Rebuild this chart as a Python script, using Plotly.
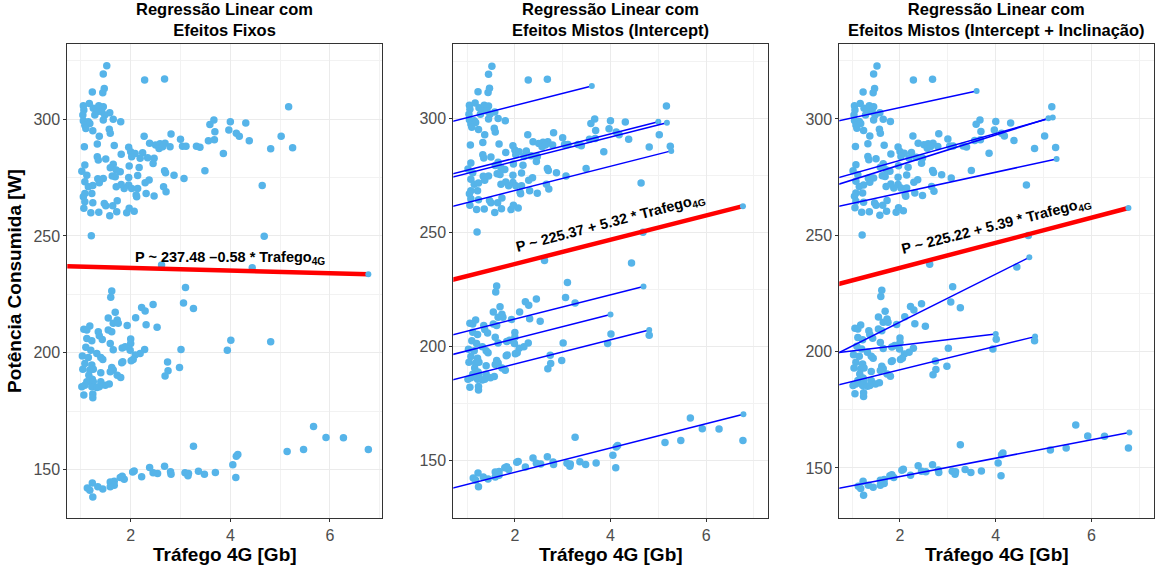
import numpy as np
import plotly.graph_objects as go

# ---------------- data ----------------
# upper cluster (about 250-325 W)
trafego_alto = [1.52,1.45,2.28,2.68,1.44,1.47,1.23,5.17,1.05,1.17,1.06,1.25,1.36,1.45,1.32,1.42,1.58,1.04,1.28,1.48,
                1.65,1.80,1.45,1.05,1.15,1.08,1.18,1.10,1.24,1.57,1.59,1.37,3.67,3.59,4.00,4.31,3.69,3.97,4.12,4.18,
                4.38,5.02,5.25,4.81,2.81,2.27,3.00,3.56,3.68,2.38,2.50,2.59,2.69,2.79,2.57,2.64,3.04,3.11,3.32,3.39,
                3.86,3.49,4.64,4.68,1.07,1.33,1.67,1.96,2.00,2.09,2.24,2.34,2.47,2.19,2.02,1.81,1.33,1.35,1.50,2.45,
                1.97,2.17,1.79,1.65,1.59,1.71,1.63,1.69,1.08,1.02,1.12,1.34,1.37,1.08,1.15,1.24,1.08,1.05,1.22,1.24,
                1.08,1.06,1.20,1.36,1.47,1.50,1.58,1.64,1.73,1.72,1.92,1.97,2.07,1.96,1.96,1.87,2.02,2.14,2.14,2.11,
                2.12,2.31,2.47,2.29,2.37,2.66,2.71,2.70,2.68,2.87,3.07,1.81,1.71,1.45,1.21,2.62,4.44]
potencia_alto = [322.8,319.3,316.7,317.1,311.3,313.1,311.6,305.3,305.7,306.7,303.9,304.6,305.7,305.3,303.1,303.1,302.7,301.7,301.7,301.7,
                 299.9,298.9,299.6,299.3,298.9,297.4,298.1,296.0,295.0,295.6,293.9,292.7,299.6,297.7,298.9,298.3,294.6,295.3,293.9,292.7,
                 290.7,292.7,287.7,287.3,293.6,292.7,291.4,290.7,291.1,289.6,288.9,289.4,289.6,288.2,287.4,288.2,288.4,288.4,288.4,287.9,
                 285.3,277.9,271.6,249.9,288.2,289.3,288.7,287.9,286.0,285.3,285.6,283.5,283.2,283.2,283.9,284.9,283.9,282.5,282.9,281.0,
                 279.9,279.3,277.5,280.7,279.2,278.2,275.6,275.3,280.3,277.7,276.0,274.5,272.8,273.2,271.0,271.6,268.2,266.8,268.2,264.2,
                 264.6,261.8,259.9,260.1,263.9,262.9,258.6,262.9,265.0,260.3,259.9,261.8,260.6,275.0,271.8,270.3,270.3,270.3,275.9,267.5,
                 266.8,268.2,267.1,272.8,273.9,271.0,268.9,277.0,277.9,276.0,274.6,272.0,271.0,274.6,250.1,237.5,236.4]

# middle cluster (about 180-230 W)
trafego_medio = [1.62,1.60,3.10,3.06,3.26,2.45,2.22,2.29,1.69,1.55,1.73,1.65,1.75,2.10,1.93,2.31,2.53,1.18,1.06,1.12,
                 1.55,1.62,1.35,1.37,1.12,1.22,1.43,1.59,2.00,2.00,1.65,1.83,1.89,1.99,2.28,2.19,2.09,2.05,2.01,1.10,
                 1.20,1.32,1.03,1.15,1.44,1.40,1.08,1.22,1.04,1.18,1.25,1.62,1.65,1.59,1.40,1.16,1.23,1.73,1.80,1.82,
                 1.84,1.12,1.25,1.40,1.08,1.02,1.22,1.32,1.49,1.57,1.37,1.06,1.24,1.24,2.74,2.75,2.69,2.98,3.01,3.94,
                 4.01,4.81]
potencia_medio = [226.4,223.7,227.9,221.3,218.9,220.6,219.4,217.9,217.3,214.9,214.0,212.6,212.6,215.0,211.7,212.0,210.9,211.4,210.0,209.7,
                  209.7,209.0,209.0,207.3,206.1,205.1,205.7,203.9,205.9,203.9,201.3,202.0,202.6,201.1,201.4,199.7,199.0,197.1,196.6,202.3,
                  201.1,199.7,198.6,198.0,197.1,198.0,195.4,194.7,192.9,192.6,192.9,193.7,192.6,191.9,191.4,190.4,188.6,190.4,189.4,195.7,
                  196.1,187.6,187.6,187.6,186.1,185.4,185.4,185.1,186.1,186.6,185.4,181.9,182.3,180.7,196.0,192.3,190.0,193.7,201.4,201.1,
                  205.3,204.7]

# lower cluster (about 135-170 W)
trafego_baixo = [3.26,5.67,5.92,6.27,6.77,5.47,5.14,4.15,4.12,4.05,4.11,3.70,3.48,3.36,3.15,3.09,3.16,2.80,2.81,2.68,
                 2.54,2.45,2.38,2.22,2.07,2.04,1.87,1.83,1.79,1.67,1.59,1.67,1.59,1.44,1.34,1.23,1.13,1.18,1.24]
potencia_baixo = [160.0,168.4,163.7,163.6,158.6,158.6,157.7,156.4,155.7,152.1,146.6,148.7,148.0,149.3,147.3,148.6,148.3,149.1,148.0,151.4,
                  148.3,148.6,150.9,146.9,149.4,149.0,145.9,147.1,146.6,145.0,144.7,143.3,142.6,141.7,142.6,144.3,142.1,141.1,138.3]

trafego = trafego_alto + trafego_medio + trafego_baixo
potencia = potencia_alto + potencia_medio + potencia_baixo
trafego_max = 6.77

# fixed-effect models (intercept, slope)
fixo_a, fixo_b = 237.48, -0.58
misto1_a, misto1_b = 225.37, 5.32
misto2_a, misto2_b = 225.22, 5.39

# random intercept model: group intercepts and group x maxima (common slope 5.32)
ri_intercepts = [294.9, 271.8, 270.4, 257.6, 201.2, 192.6, 181.5, 134.0]
ri_xmax = [3.61, 5.00, 5.18, 5.27, 4.69, 4.00, 4.81, 6.78]

# random intercept + slope model: group intercepts, slopes and x maxima
rs_intercepts = [296.0, 270.6, 267.3, 259.2, 192.1, 197.9, 182.1, 138.4]
rs_slopes = [4.46, 5.79, 6.47, 4.48, 10.3, 2.42, 5.05, 3.95]
rs_xmax = [3.60, 5.19, 5.10, 5.27, 4.70, 4.00, 4.82, 6.79]

titulos = ["Regressão Linear com<br>Efeitos Fixos",
           "Regressão Linear com<br>Efeitos Mistos (Intercept)",
           "Regressão Linear com<br>Efeitos Mistos (Intercept + Inclinação)"]

# ---------------- figure ----------------
W, H = 1158, 569
FONT = "Liberation Sans"
PT = "#56B4E9"

fig = go.Figure()

x_domains = [[67.3 / W, 382.3 / W], [453.3 / W, 768.3 / W], [839.3 / W, 1154.3 / W]]
y_domain = [1 - 517.7 / H, 1 - 44.3 / H]
x_ranges = [[0.728, 7.05], [0.713, 7.30], [0.733, 7.31]]
y_ranges = [[129.4, 332.0], [124.7, 332.4], [128.6, 332.1]]


def line_trace(a, b, xmax, color, width, xa, ya):
    xs = np.array([0.0, xmax])
    return go.Scatter(x=xs, y=a + b * xs, mode="lines", line=dict(color=color, width=width),
                      xaxis=xa, yaxis=ya, showlegend=False, hoverinfo="skip")


def end_dot(a, b, xmax, xa, ya):
    return go.Scatter(x=[xmax], y=[a + b * xmax], mode="markers",
                      marker=dict(color=PT, size=6), xaxis=xa, yaxis=ya,
                      showlegend=False, hoverinfo="skip")


for i in range(3):
    xa = "x" if i == 0 else f"x{i+1}"
    ya = "y" if i == 0 else f"y{i+1}"
    fig.add_trace(go.Scatter(x=trafego, y=potencia, mode="markers",
                             marker=dict(color=PT, size=7.5), xaxis=xa, yaxis=ya,
                             showlegend=False))
    if i == 1:
        for a, xm in zip(ri_intercepts, ri_xmax):
            fig.add_trace(line_trace(a, misto1_b, xm, "#0000FF", 1.5, xa, ya))
            fig.add_trace(end_dot(a, misto1_b, xm, xa, ya))
        fig.add_trace(line_trace(misto1_a, misto1_b, trafego_max, "#FF0000", 4.5, xa, ya))
        fig.add_trace(end_dot(misto1_a, misto1_b, trafego_max, xa, ya))
    elif i == 2:
        for a, b, xm in zip(rs_intercepts, rs_slopes, rs_xmax):
            fig.add_trace(line_trace(a, b, xm, "#0000FF", 1.5, xa, ya))
            fig.add_trace(end_dot(a, b, xm, xa, ya))
        fig.add_trace(line_trace(misto2_a, misto2_b, trafego_max, "#FF0000", 4.5, xa, ya))
        fig.add_trace(end_dot(misto2_a, misto2_b, trafego_max, xa, ya))
    else:
        fig.add_trace(line_trace(fixo_a, fixo_b, trafego_max, "#FF0000", 4.5, xa, ya))
        fig.add_trace(end_dot(fixo_a, fixo_b, trafego_max, xa, ya))

    axis_common = dict(showline=True, linecolor="#333333", linewidth=1, mirror=True,
                       ticks="outside", ticklen=3, tickcolor="#333333", tickwidth=1,
                       showgrid=True, gridcolor="#EBEBEB", gridwidth=1.1, zeroline=False,
                       tickfont=dict(family=FONT, size=16, color="#4D4D4D"))
    xkey = "xaxis" if i == 0 else f"xaxis{i+1}"
    ykey = "yaxis" if i == 0 else f"yaxis{i+1}"
    fig.layout[xkey] = dict(domain=x_domains[i], range=x_ranges[i], anchor=ya,
                            tickvals=[2, 4, 6],
                            minor=dict(tickvals=[1, 3, 5, 7], showgrid=True, gridcolor="#F2F2F2", gridwidth=0.6, ticks=""),
                            title=dict(text="<b>Tráfego 4G [Gb]</b>", font=dict(family=FONT, size=19, color="#000000"), standoff=4),
                            **axis_common)
    ydict = dict(domain=y_domain, range=y_ranges[i], anchor=xa,
                 tickvals=[150, 200, 250, 300],
                 minor=dict(tickvals=[125, 175, 225, 275, 325], showgrid=True, gridcolor="#F2F2F2", gridwidth=0.6, ticks=""),
                 **axis_common)
    if i == 0:
        ydict["title"] = dict(text="<b>Potência Consumida [W]</b>", font=dict(family=FONT, size=19, color="#000000"), standoff=6)
    fig.layout[ykey] = ydict

    cx = (x_domains[i][0] + x_domains[i][1]) / 2
    fig.add_annotation(text=f"<b>{titulos[i]}</b>", x=cx, y=1 - 20 / H, xref="paper", yref="paper",
                       showarrow=False, font=dict(family=FONT, size=16.5, color="#000000"),
                       xanchor="center", yanchor="middle", align="center")

# equation labels
fig.add_annotation(text="<b>P ~ 237.48 \u20130.58 * Trafego<sub>4G</sub></b>", x=4.0, y=240.5,
                   xref="x", yref="y", showarrow=False, font=dict(family=FONT, size=14.5, color="#000000"))
fig.add_annotation(text="<b>P ~ 225.37 + 5.32 * Trafego<sub>4G</sub></b>", x=4.01, y=254.2,
                   xref="x2", yref="y2", showarrow=False, textangle=-14.8,
                   font=dict(family=FONT, size=14.5, color="#000000"))
fig.add_annotation(text="<b>P ~ 225.22 + 5.39 * Trafego<sub>4G</sub></b>", x=4.02, y=253.9,
                   xref="x3", yref="y3", showarrow=False, textangle=-14.3,
                   font=dict(family=FONT, size=14.5, color="#000000"))

fig.update_layout(width=W, height=H, margin=dict(l=0, r=0, t=0, b=0),
                  paper_bgcolor="white", plot_bgcolor="white", showlegend=False)

fig.write_html("out.html", config={"displayModeBar": False})

# remove the default page margin so the figure sits at the window's top-left corner
with open("out.html", "r", encoding="utf-8") as f:
    html = f.read()
html = html.replace("<head>", "<head><style>html,body{margin:0;padding:0;overflow:hidden;}</style>", 1)
with open("out.html", "w", encoding="utf-8") as f:
    f.write(html)
